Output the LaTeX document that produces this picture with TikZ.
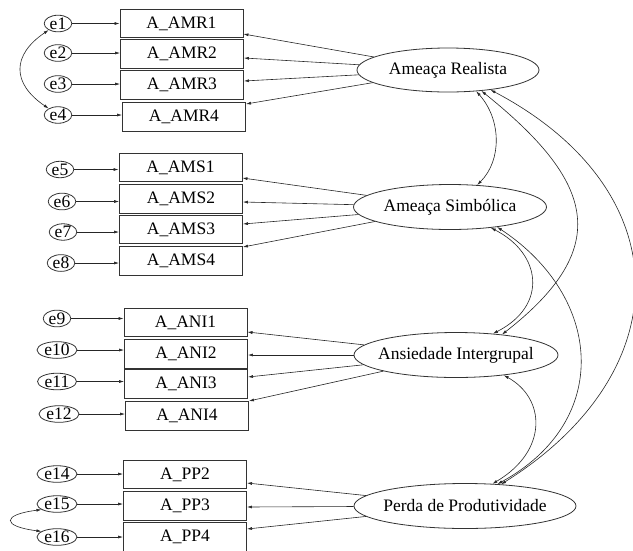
\documentclass[tikz,border=0pt]{standalone}
\usepackage{fontspec}
\setmainfont{Liberation Serif}
\usetikzlibrary{arrows.meta,calc,shapes.geometric}

\begin{document}
\begin{tikzpicture}[x=1pt,y=-1pt,
  font={\fontsize{17.5}{20}\selectfont},
  obs/.style={draw=black!80, line width=0.9pt, rectangle, minimum width=123pt,
              minimum height=28.5pt, inner sep=0pt},
  err/.style={draw=black!80, line width=0.8pt, ellipse, inner xsep=1.5pt,
              inner ysep=0pt, minimum height=16pt},
  lat/.style={draw=black!80, line width=0.8pt, ellipse, inner xsep=-30pt,
              inner ysep=0pt},
  load/.style={draw=black!85, line width=0.6pt, -{Latex[length=5pt,width=3pt]}},
  cov/.style={draw=black!85, line width=0.6pt,
              {Latex[length=5pt,width=3pt]}-{Latex[length=5pt,width=3pt]}}]

\useasboundingbox (0,0) rectangle (633,550);

% observed indicators
\node[obs] (b1)  at (181.5,23.5) {A\_AMR1};
\node[obs] (b2)  at (182,54)     {A\_AMR2};
\node[obs] (b3)  at (182,85)     {A\_AMR3};
\node[obs] (b4)  at (184,117)    {A\_AMR4};
\node[obs] (b5)  at (180.5,167.5){A\_AMS1};
\node[obs] (b6)  at (181,199)    {A\_AMS2};
\node[obs] (b7)  at (181,229.5)  {A\_AMS3};
\node[obs] (b8)  at (181,261)    {A\_AMS4};
\node[obs] (b9)  at (185.5,322.5){A\_ANI1};
\node[obs] (b10) at (186,354)    {A\_ANI2};
\node[obs] (b11) at (186,384)    {A\_ANI3};
\node[obs] (b12) at (187,416)    {A\_ANI4};
\node[obs] (b14) at (185,474.5)  {A\_PP2};
\node[obs] (b15) at (185,506)    {A\_PP3};
\node[obs] (b16) at (185,537)    {A\_PP4};

% error terms
\node[err] (e1)  at (58,23.5)  {e1};
\node[err] (e2)  at (58,53)    {e2};
\node[err] (e3)  at (58,84)    {e3};
\node[err] (e4)  at (58,115)   {e4};
\node[err] (e5)  at (60,169.5) {e5};
\node[err] (e6)  at (62,201.5) {e6};
\node[err] (e7)  at (63,232)   {e7};
\node[err] (e8)  at (61,263)   {e8};
\node[err] (e9)  at (57,318.5) {e9};
\node[err] (e10) at (57,350)   {e10};
\node[err] (e11) at (57,381.5) {e11};
\node[err] (e12) at (59,414)   {e12};
\node[err] (e14) at (57,474)   {e14};
\node[err] (e15) at (57,504)   {e15};
\node[err] (e16) at (57,537)   {e16};

\foreach \e/\b in {e1/b1,e2/b2,e3/b3,e4/b4,e5/b5,e6/b6,e7/b7,e8/b8,
                   e9/b9,e10/b10,e11/b11,e12/b12,e14/b14,e15/b15,e16/b16}
  \draw[load] (\e) -- (\e -| \b.west);

% latent factors
\node[lat, minimum width=182pt, minimum height=44pt] (AR) at (448,70)  {Ameaça Realista};
\node[lat, minimum width=193pt, minimum height=45pt] (AS) at (450,207) {Ameaça Simbólica};
\node[lat, minimum width=204pt, minimum height=45pt] (AI) at (456,355) {Ansiedade Intergrupal};
\node[lat, minimum width=222pt, minimum height=45pt] (PP) at (465,506) {Perda de Produtividade};

% factor loadings
\foreach \b/\d in {b1/10.5,b2/4,b3/-4,b4/-13}
  \draw[load] (AR) -- ($(\b.east)+(0,\d)$);
\foreach \b/\d in {b5/10.5,b6/3,b7/-5.5,b8/-14}
  \draw[load] (AS) -- ($(\b.east)+(0,\d)$);
\foreach \b/\d in {b9/9.5,b10/1,b11/-7,b12/-15}
  \draw[load] (AI) -- ($(\b.east)+(0,\d)$);
\foreach \b/\d in {b14/8.5,b15/1,b16/-8}
  \draw[load] (PP) -- ($(\b.east)+(0,\d)$);

% error covariances
\draw[cov] (e1.215) .. controls +(-37,25) and +(-37,-25) .. (e4.145);
\draw[cov] (e15.200) .. controls +(-40,5) and +(-40,-5) .. (e16.160);

% factor covariances
\draw[cov] (AR.-37) .. controls +(25,28) and +(25,-25) .. (AS.39);
\draw[cov] (AR.-32) .. controls +(112,90) and +(113,-88) .. (AI.24);
\draw[cov] (AR.-25) .. controls +(190,100) and +(180,-113) .. (PP.31);
\draw[cov] (AS.-27) .. controls +(51,26) and +(55,-28) .. (AI.30);
\draw[cov] (AS.-23) .. controls +(106,70) and +(115,-63) .. (PP.34);
\draw[cov] (AI.-23) .. controls +(42,23) and +(56,-33) .. (PP.39);

\end{tikzpicture}
\end{document}
